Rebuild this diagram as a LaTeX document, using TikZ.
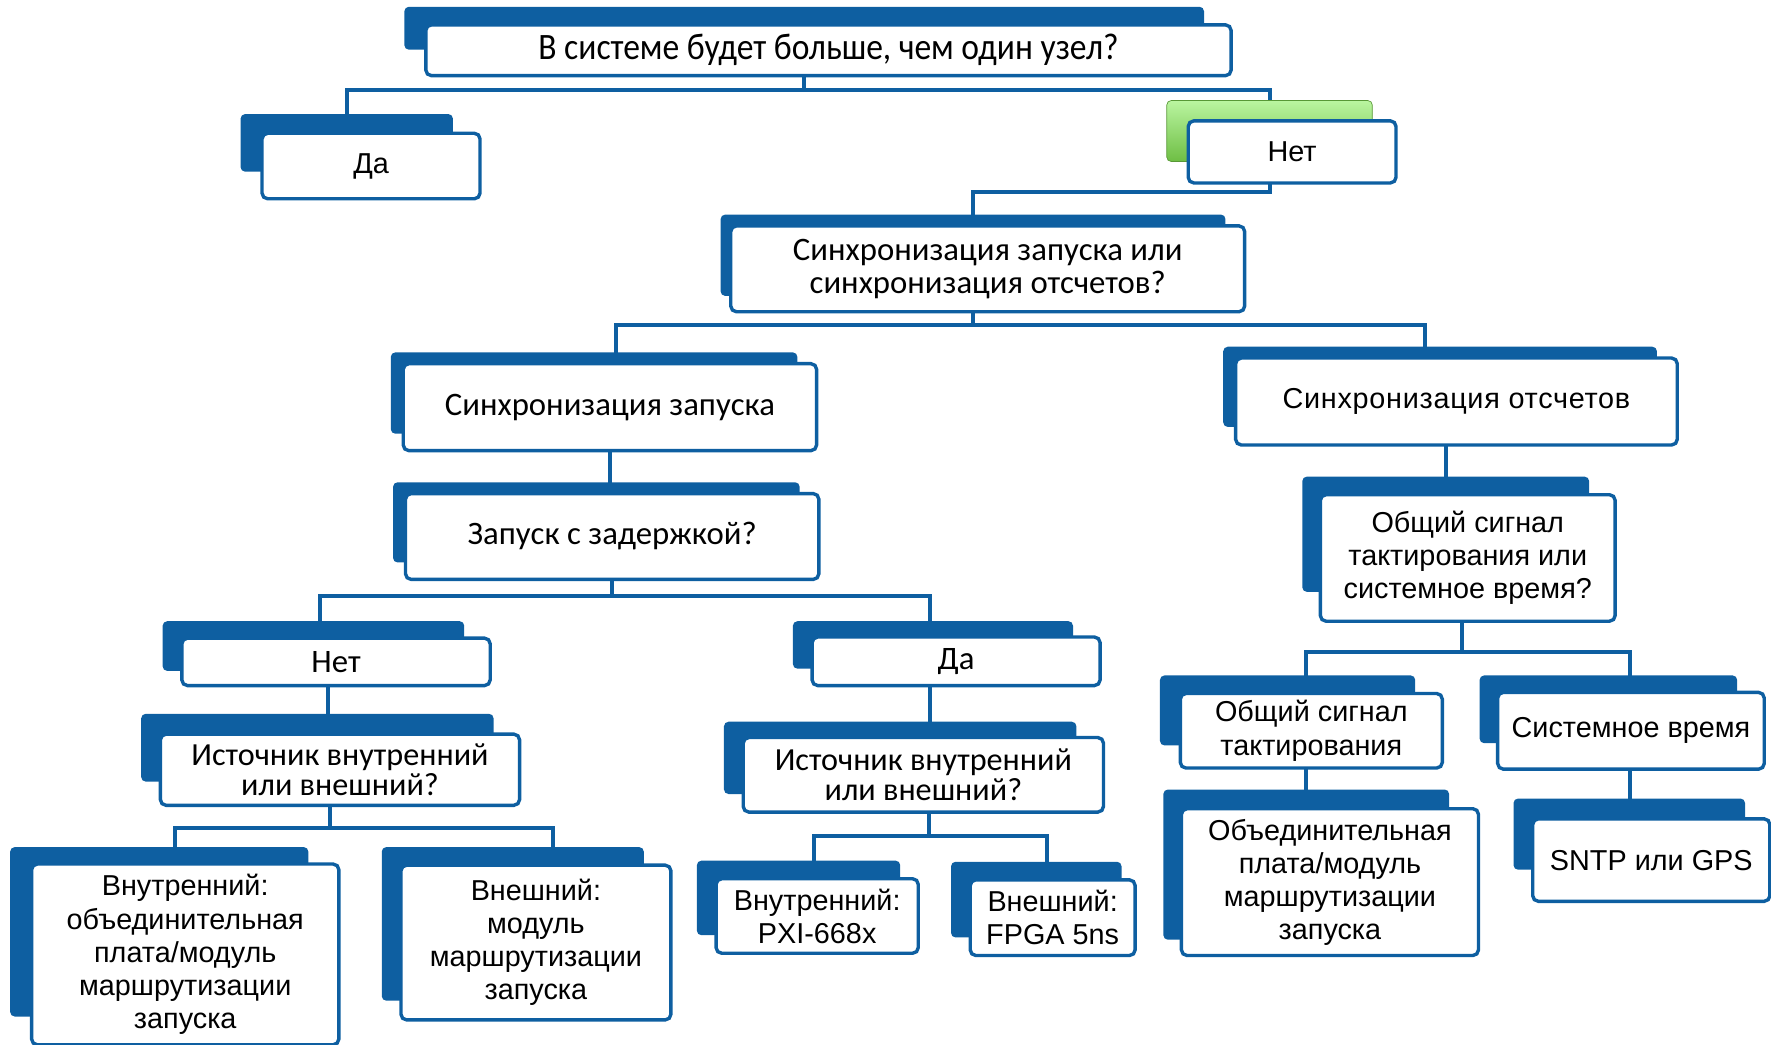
\documentclass[tikz,border=0pt]{standalone}
\usepackage{fontspec}
\setmainfont{Liberation Sans}
\newfontfamily\calfont{Carlito}
\newfontfamily\calnarrow[FakeStretch=0.9]{Carlito}
\newfontfamily\arispaced[LetterSpace=2.5]{Liberation Sans}
\usepackage{xcolor}
\usepackage{tikz}
\usetikzlibrary{backgrounds}

\definecolor{dblue}{RGB}{14,95,161}
\definecolor{gtop}{RGB}{186,245,160}
\definecolor{gbot}{RGB}{110,190,68}

\newcommand{\titlef}{\calnarrow\fontsize{33}{35}\selectfont}
\newcommand{\calf}{\calfont\fontsize{29}{29}\selectfont}
\newcommand{\calsrc}{\calfont\fontsize{28.5}{27}\selectfont}
\newcommand{\arif}{\fontsize{25.5}{29.3}\selectfont}
\newcommand{\arisp}{\arispaced\fontsize{25.5}{29}\selectfont}

\tikzset{
  backbox/.style={fill=dblue, rounded corners=4pt, inner sep=0pt},
  greenbox/.style={top color=gtop, bottom color=gbot, draw=gbot!80!black, line width=0.6pt, rounded corners=4pt, inner sep=0pt},
  frontbox/.style={draw=dblue, line width=3pt, fill=white, rounded corners=5pt, align=center, inner sep=0pt, text=black},
  link/.style={draw=dblue, line width=3.5pt}
}

\begin{document}
\begin{tikzpicture}[x=1pt,y=1pt,yscale=-1,xscale=1]
  \useasboundingbox (0,0) rectangle (1568,925);

    % Title question
    \node[backbox, minimum width=708pt, minimum height=38pt] (q1b) at (712,25) {};
    \node[frontbox, minimum width=713pt, minimum height=45pt, font=\titlef] (q1) at (733.5,44.5) {В системе будет больше, чем один узел?};

    % Yes / No, first level
    \node[backbox, minimum width=188pt, minimum height=51pt] (da1b) at (307,126.5) {};
    \node[frontbox, minimum width=193pt, minimum height=58pt, font=\arif] (da1) at (328.5,147) {Да};
    \node[greenbox, minimum width=182pt, minimum height=54pt] (net1b) at (1124,116) {};
    \node[frontbox, minimum width=184pt, minimum height=55pt, font=\arif] (net1) at (1144,134.5) {Нет};

    % Trigger or sample sync
    \node[backbox, minimum width=447pt, minimum height=72pt] (q2b) at (861.5,226) {};
    \node[frontbox, minimum width=455pt, minimum height=76pt, font=\calf] (q2) at (874.5,238) {Синхронизация запуска или\\синхронизация отсчетов?};

    \node[backbox, minimum width=360pt, minimum height=72pt] (szb) at (526,348) {};
    \node[frontbox, minimum width=366pt, minimum height=77pt, font=\calf] (sz) at (540,360.5) {Синхронизация запуска};
    \node[backbox, minimum width=384pt, minimum height=71pt] (sob) at (1275,342.5) {};
    \node[frontbox, minimum width=391pt, minimum height=77pt, font=\arisp] (so) at (1289.5,355.5) {Синхронизация отсчетов};

    \node[backbox, minimum width=360pt, minimum height=71pt] (zzb) at (528,462.5) {};
    \node[frontbox, minimum width=366pt, minimum height=76pt, font=\calf] (zz) at (542,475) {Запуск с задержкой?};
    \node[backbox, minimum width=254pt, minimum height=102pt] (obb) at (1280,473) {};
    \node[frontbox, minimum width=261pt, minimum height=112pt, font=\arif] (ob) at (1299.5,494) {Общий сигнал\\тактирования или\\системное время?};

    % Delayed trigger: no / yes
    \node[backbox, minimum width=267pt, minimum height=44pt] (net2b) at (277.5,572) {};
    \node[frontbox, minimum width=273pt, minimum height=42pt, font=\calf] (net2) at (297.5,586) {Нет};
    \node[backbox, minimum width=248pt, minimum height=42pt] (da2b) at (826,571) {};
    \node[frontbox, minimum width=255pt, minimum height=43pt, font=\calf] (da2) at (846.5,585.5) {Да};

    \node[backbox, minimum width=312pt, minimum height=60pt] (src1b) at (281,662) {};
    \node[frontbox, minimum width=318pt, minimum height=63pt, font=\calsrc] (src1) at (301,681.5) {Источник внутренний\\или внешний?};
    \node[backbox, minimum width=312pt, minimum height=64pt] (src2b) at (797,671) {};
    \node[frontbox, minimum width=319pt, minimum height=66pt, font=\calsrc] (src2) at (817.5,686) {Источник внутренний\\или внешний?};

    % Clock or system time
    \node[backbox, minimum width=226pt, minimum height=62pt] (clkb) at (1140,629) {};
    \node[frontbox, minimum width=232pt, minimum height=66pt, font=\arif] (clk) at (1161,647) {Общий сигнал\\тактирования};
    \node[backbox, minimum width=228pt, minimum height=60pt] (stb) at (1424,628) {};
    \node[frontbox, minimum width=236pt, minimum height=68pt, font=\arif] (st) at (1444,647) {Системное время};

    % Leaves
    \node[backbox, minimum width=264pt, minimum height=150pt] (in1b) at (141,825) {};
    \node[frontbox, minimum width=272pt, minimum height=160pt, font=\arif] (in1) at (164,845) {Внутренний:\\объединительная\\плата/модуль\\маршрутизации\\запуска};
    \node[backbox, minimum width=232pt, minimum height=136pt] (ex1b) at (454,818) {};
    \node[frontbox, minimum width=239pt, minimum height=137pt, font=\arif] (ex1) at (474.5,834.5) {Внешний:\\модуль\\маршрутизации\\запуска};

    \node[backbox, minimum width=180pt, minimum height=66pt] (in2b) at (707,795) {};
    \node[frontbox, minimum width=179pt, minimum height=66pt, font=\arif] (in2) at (723.5,811) {Внутренний:\\PXI-668x};
    \node[backbox, minimum width=151pt, minimum height=67pt] (ex2b) at (917.5,796.5) {};
    \node[frontbox, minimum width=146pt, minimum height=67pt, font=\arif] (ex2) at (932,812.5) {Внешний:\\FPGA 5ns};

    \node[backbox, minimum width=253pt, minimum height=133pt] (bpb) at (1156.5,765.5) {};
    \node[frontbox, minimum width=263pt, minimum height=130pt, font=\arif] (bp) at (1177.5,781) {Объединительная\\плата/модуль\\маршрутизации\\запуска};
    \node[backbox, minimum width=205pt, minimum height=63pt] (gpsb) at (1442.5,738.5) {};
    \node[frontbox, minimum width=210pt, minimum height=73pt, font=\arif] (gps) at (1462,761.5) {SNTP или GPS};

    % Connectors
    \begin{scope}[on background layer]
    \draw[link] (q1b.center) -- ++(0,55) -| (da1b.center);
    \draw[link] (q1b.center) -- ++(0,55) -| (net1b.center);
    \draw[link] (net1b.center) -- ++(0,54) -| (q2b.center);
    \draw[link] (q2b.center) -- ++(0,62) -| ([xshift=19pt]szb.center);
    \draw[link] (q2b.center) -- ++(0,62) -| ([xshift=-13pt]sob.center);
    \draw[link] (sz.center) -- (sz.center |- zzb.center);
    \draw[link] (obb.center) -- (obb.center |- so.center);
    \draw[link] (zz.center) -- ++(0,53) -| ([xshift=6pt]net2b.center);
    \draw[link] (zz.center) -- ++(0,53) -| ([xshift=-3pt]da2b.center);
    \draw[link] ([xshift=-7pt]net2.center) -- ([xshift=-7pt]net2.center |- src1b.center);
    \draw[link] ([xshift=-3pt]da2b.center) -- ([xshift=-3pt]da2b.center |- src2b.center);
    \draw[link] ([xshift=-9pt]src1.center) -- ++(0,52) -| ([xshift=-9pt]in1.center);
    \draw[link] ([xshift=-9pt]src1.center) -- ++(0,52) -| ([xshift=15pt]ex1.center);
    \draw[link] ([xshift=5pt]src2.center) -- ++(0,54) -| ([xshift=-3pt]in2.center);
    \draw[link] ([xshift=5pt]src2.center) -- ++(0,54) -| ([xshift=-5pt]ex2.center);
    \draw[link] ([xshift=-5pt]ob.center) -- ++(0,83) -| ([xshift=-5pt]clk.center);
    \draw[link] ([xshift=-5pt]ob.center) -- ++(0,83) -| ([xshift=-1pt]st.center);
    \draw[link] ([xshift=-5pt]clk.center) -- ([xshift=-5pt]clk.center |- bpb.center);
    \draw[link] ([xshift=-1pt]st.center) -- ([xshift=-1pt]st.center |- gpsb.center);
    \end{scope}

  \end{tikzpicture}
\end{document}
